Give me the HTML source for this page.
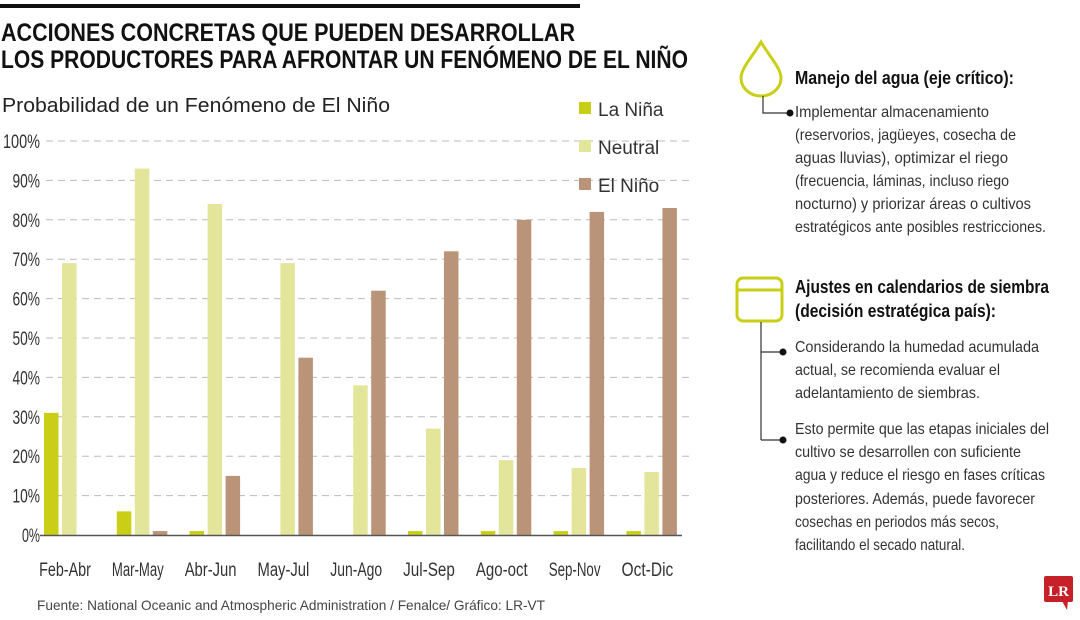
<!DOCTYPE html>
<html><head><meta charset="utf-8"><style>
html,body{margin:0;padding:0;background:#fff}
svg{display:block}
.n{font-family:"Liberation Sans Narrow","Liberation Sans",sans-serif}
.s{font-family:"Liberation Sans",sans-serif}
</style></head><body>
<svg id="chart" width="1080" height="620" viewBox="0 0 1080 620" xmlns="http://www.w3.org/2000/svg">
<rect x="0" y="4" width="580" height="4" fill="#111"/>
<text class="n" x="1" y="41" font-size="25" font-weight="bold" fill="#111" textLength="574" lengthAdjust="spacingAndGlyphs">ACCIONES CONCRETAS QUE PUEDEN DESARROLLAR</text>
<text class="n" x="1" y="68" font-size="25" font-weight="bold" fill="#111" textLength="687" lengthAdjust="spacingAndGlyphs">LOS PRODUCTORES PARA AFRONTAR UN FENÓMENO DE EL NIÑO</text>
<text class="s" x="2" y="112" font-size="20" fill="#222" textLength="388" lengthAdjust="spacingAndGlyphs">Probabilidad de un Fenómeno de El Niño</text>
<g id="grid"></g>
<g id="bars"></g>
<g id="xlabels"></g>
<g id="legend"></g>
<text class="n" x="37" y="610" font-size="14" fill="#444" textLength="508" lengthAdjust="spacingAndGlyphs">Fuente: National Oceanic and Atmospheric Administration / Fenalce/ Gráfico: LR-VT</text>

<g fill="none" stroke="#c8cf16" stroke-width="3">
<path d="M761 42 C753 56 741 68 741 78 A20 18 0 0 0 781 78 C781 68 769 56 761 42 Z"/>
</g>
<path d="M763 96 V113 H788" fill="none" stroke="#333" stroke-width="1.2"/>
<circle cx="790" cy="113" r="3.5" fill="#111"/>
<text class="n" x="795" y="84" font-size="18" font-weight="bold" fill="#111" textLength="219" lengthAdjust="spacingAndGlyphs">Manejo del agua (eje crítico):</text>
<g class="n" font-size="16" fill="#333">
<text x="795" y="117" textLength="194" lengthAdjust="spacingAndGlyphs">Implementar almacenamiento</text>
<text x="795" y="140" textLength="221" lengthAdjust="spacingAndGlyphs">(reservorios, jagüeyes, cosecha de</text>
<text x="795" y="163" textLength="213" lengthAdjust="spacingAndGlyphs">aguas lluvias), optimizar el riego</text>
<text x="795" y="186" textLength="214" lengthAdjust="spacingAndGlyphs">(frecuencia, láminas, incluso riego</text>
<text x="795" y="209" textLength="236" lengthAdjust="spacingAndGlyphs">nocturno) y priorizar áreas o cultivos</text>
<text x="795" y="232" textLength="251" lengthAdjust="spacingAndGlyphs">estratégicos ante posibles restricciones.</text>
</g>

<g fill="none" stroke="#c8cf16" stroke-width="3">
<rect x="737" y="278" width="45" height="43" rx="6"/>
<line x1="737" y1="290" x2="782" y2="290"/>
</g>
<path d="M761 322 V440 M761 352 H781 M761 440 H781" fill="none" stroke="#333" stroke-width="1.2"/>
<circle cx="783" cy="352" r="3.5" fill="#111"/>
<circle cx="783" cy="440" r="3.5" fill="#111"/>
<text class="n" x="795" y="293" font-size="18" font-weight="bold" fill="#111" textLength="254" lengthAdjust="spacingAndGlyphs">Ajustes en calendarios de siembra</text>
<text class="n" x="795" y="317" font-size="18" font-weight="bold" fill="#111" textLength="201" lengthAdjust="spacingAndGlyphs">(decisión estratégica país):</text>
<g class="n" font-size="16" fill="#333">
<text x="795" y="352" textLength="244" lengthAdjust="spacingAndGlyphs">Considerando la humedad acumulada</text>
<text x="795" y="375" textLength="205" lengthAdjust="spacingAndGlyphs">actual, se recomienda evaluar el</text>
<text x="795" y="398" textLength="185" lengthAdjust="spacingAndGlyphs">adelantamiento de siembras.</text>
<text x="795" y="434" textLength="254" lengthAdjust="spacingAndGlyphs">Esto permite que las etapas iniciales del</text>
<text x="795" y="457" textLength="226" lengthAdjust="spacingAndGlyphs">cultivo se desarrollen con suficiente</text>
<text x="795" y="480" textLength="250" lengthAdjust="spacingAndGlyphs">agua y reduce el riesgo en fases críticas</text>
<text x="795" y="504" textLength="240" lengthAdjust="spacingAndGlyphs">posteriores. Además, puede favorecer</text>
<text x="795" y="527" textLength="204" lengthAdjust="spacingAndGlyphs">cosechas en periodos más secos,</text>
<text x="795" y="550" textLength="170" lengthAdjust="spacingAndGlyphs">facilitando el secado natural.</text>
</g>
<g>
<rect x="1044" y="576" width="29" height="26" rx="2" fill="#c62128"/>
<path d="M1062 601 L1068 601 L1067 610 Z" fill="#c62128"/>
<text x="1058.5" y="596" text-anchor="middle" font-family="Liberation Serif,serif" font-weight="bold" font-size="15" fill="#fff">LR</text>
</g>
</svg>
<script>
const categories=["Feb-Abr","Mar-May","Abr-Jun","May-Jul","Jun-Ago","Jul-Sep","Ago-oct","Sep-Nov","Oct-Dic"];
const laNina=[31,6,1,0,0,1,1,1,1];
const neutral=[69,93,84,69,38,27,19,17,16];
const elNino=[0,1,15,45,62,72,80,82,83];
const yTicks=[0,10,20,30,40,50,60,70,80,90,100];
const seriesNames=["La Niña","Neutral","El Niño"];
const NS="http://www.w3.org/2000/svg";
const colors=["#c8cf16","#e3e59a","#b99478"];
function y(v){return 535-v*3.94;}
function x(i){return 44+i*72.8;}
function mk(t,a,p){const e=document.createElementNS(NS,t);for(const k in a)e.setAttribute(k,a[k]);p.appendChild(e);return e;}
const grid=document.getElementById('grid');
yTicks.forEach(t=>{
  if(t>0){const l=mk('line',{x1:46,x2:690,y1:y(t),y2:y(t),stroke:'#bbb','stroke-width':1,'stroke-dasharray':'7,5'},grid);
  
  }
  const lbl=t+'%';
  const tx=mk('text',{x:40,y:y(t)+7,'text-anchor':'end','font-size':19,fill:'#333',class:'n',textLength:(lbl.length*9.5-1),lengthAdjust:'spacingAndGlyphs'},grid);
  tx.textContent=lbl;
  
  
});
const bars=document.getElementById('bars');
[laNina,neutral,elNino].forEach((s,si)=>{
  s.forEach((v,i)=>{
    if(v<=0)return;
    const r=mk('rect',{x:x(i)+si*18,y:y(v),width:14.5,height:v*3.94,fill:colors[si]},bars);
    
    
  });
});
const ax=mk('line',{x1:40,x2:682,y1:535.5,y2:535.5,stroke:'#555','stroke-width':1.5},bars);


const xl=document.getElementById('xlabels');
categories.forEach((c,i)=>{
  const t=mk('text',{x:x(i)+21,y:576,'text-anchor':'middle','font-size':19,fill:'#333',class:'n',textLength:c.length*7.4,lengthAdjust:'spacingAndGlyphs'},xl);
  t.textContent=c;
  
  
});
const lg=document.getElementById('legend');
seriesNames.forEach((n,i)=>{
  const yy=[116,154,192][i];
  const r=mk('rect',{x:579,y:yy-14,width:12,height:12,fill:colors[i]},lg);
  
  
  const t=mk('text',{x:598,y:yy,'font-size':19,fill:'#333',class:'s'},lg);
  t.textContent=n;
  
  
});
</script>
</body></html>
